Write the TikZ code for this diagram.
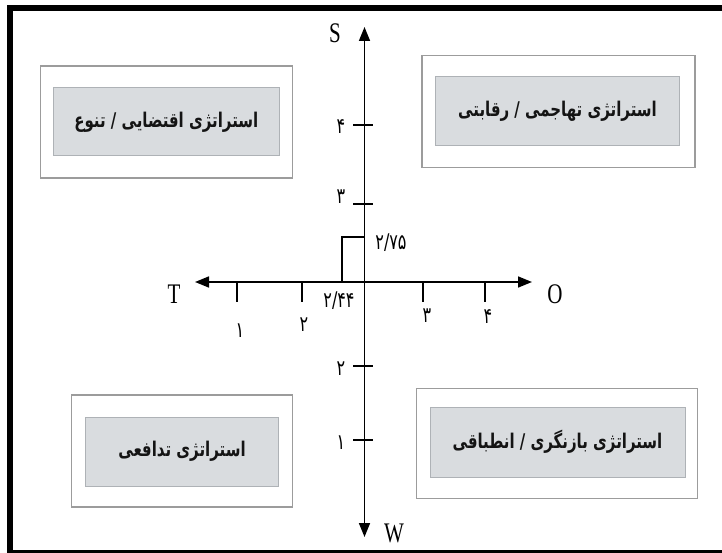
\documentclass[tikz,border=0pt]{standalone}
\usepackage{fontspec}
\usepackage{graphicx}
\setmainfont{Liberation Serif}
\newfontfamily\fa[Script=Arabic]{DejaVu Sans}
\TeXXeTstate=1
\usetikzlibrary{arrows.meta}
\newcommand{\tallbox}[1]{\scalebox{1}[1.35]{#1}}
\definecolor{innerfill}{HTML}{D9DCDF}
\definecolor{innerline}{HTML}{AEB2B6}
\definecolor{outerline}{HTML}{9C9C9C}
\begin{document}
\begin{tikzpicture}[x=1pt,y=-1pt,
  outerbox/.style={draw=outerline, line width=1.6pt, fill=white, inner sep=0pt},
  innerbox/.style={draw=innerline, line width=1pt, fill=innerfill, inner sep=0pt,
     font=\fa\bfseries\fontsize{15}{18}\selectfont, text=black!92},
  axis/.style={line width=1.6pt, -{Triangle[length=14pt,width=11pt]}},
  tickmark/.style={line width=1.5pt},
  letterlbl/.style={font=\fontsize{21}{24}\selectfont, inner sep=0pt},
  digitlbl/.style={font=\fa\fontsize{16}{18}\selectfont, inner sep=0pt},
  marker/.style={line width=1.5pt}]
\useasboundingbox (0,0) rectangle (722,553);
\fill[white] (0,0) rectangle (722,553);
% frame
\draw[line width=6pt] (722,8) -- (10,8) -- (10,553);
\draw[line width=2.5pt] (7,551.5) -- (722,551.5);

% boxes
\node[outerbox, minimum width=252pt, minimum height=112pt] (tlo) at (166.5,122) {};
\node[innerbox, minimum width=226pt, minimum height=68pt] (tli) at (166.3,121.8)
  {\tallbox{\beginR استراتژی اقتضایی / تنوع\endR}};
\node[outerbox, minimum width=273pt, minimum height=112pt] (tro) at (558.5,111.5) {};
\node[innerbox, minimum width=244pt, minimum height=69pt] (tri) at (557.5,111.5)
  {\tallbox{\beginR استراتژی تهاجمی / رقابتی\endR}};
\node[outerbox, minimum width=221pt, minimum height=112pt] (blo) at (182,451.2) {};
\node[innerbox, minimum width=193pt, minimum height=69pt] (bli) at (182,451.5)
  {\tallbox{\beginR استراتژی تدافعی\endR}};
\node[outerbox, minimum width=281pt, minimum height=110pt] (bro) at (557,443.5) {};
\node[innerbox, minimum width=255pt, minimum height=70pt] (bri) at (557.5,442)
  {\tallbox{\beginR استراتژی بازنگری / انطباقی\endR}};

% axes
\coordinate (vtop) at (364.5,27);
\coordinate (vbot) at (364.5,537);
\coordinate (hleft) at (195,282);
\coordinate (hright) at (532,282);
\coordinate (origin) at (364.5,282);
\draw[axis] (origin) -- (vtop);
\draw[axis] (origin) -- (vbot);
\draw[axis] (origin) -- (hleft);
\draw[axis] (origin) -- (hright);

% axis letters
\node[letterlbl] (S) at (335,33) {\tallbox{S}};
\node[letterlbl] (W) at (394,533) {\tallbox{W}};
\node[letterlbl] (T) at (174,294) {\tallbox{T}};
\node[letterlbl] (O) at (555,294) {\tallbox{O}};

% x ticks
\foreach \xx/\nm in {237/xa,302/xb,423/xc,485/xd}{
  \coordinate (\nm t) at (\xx,281);
  \coordinate (\nm b) at (\xx,302);
  \draw[tickmark] (\nm t) -- (\nm b);
}
\node[digitlbl] (lx1) at (240,331) {\tallbox{۱}};
\node[digitlbl] (lx2) at (304,325) {\tallbox{۲}};
\node[digitlbl] (lx3) at (427,316) {\tallbox{۳}};
\node[digitlbl] (lx4) at (488,317) {\tallbox{۴}};

% y ticks
\foreach \yy/\nm in {125/ya,204/yb,366/yc,440/yd}{
  \coordinate (\nm l) at (353,\yy);
  \coordinate (\nm r) at (373,\yy);
  \draw[line width=2pt] (\nm l) -- (\nm r);
}
\node[digitlbl] (ly4) at (341,127) {\tallbox{۴}};
\node[digitlbl] (ly3) at (341,197) {\tallbox{۳}};
\node[digitlbl] (ly2) at (341,369) {\tallbox{۲}};
\node[digitlbl] (ly1) at (341,443) {\tallbox{۱}};

% position marker
\coordinate (mbase) at (342,282);
\coordinate (mcorner) at (342,237);
\coordinate (maxis) at (364.5,237);
\draw[marker] (mbase) -- (mcorner) -- (maxis);
\node[digitlbl] (v275) at (391,243) {\tallbox{۲/۷۵}};
\node[digitlbl] (v244) at (339,301) {\tallbox{۲/۴۴}};
\end{tikzpicture}
\end{document}
